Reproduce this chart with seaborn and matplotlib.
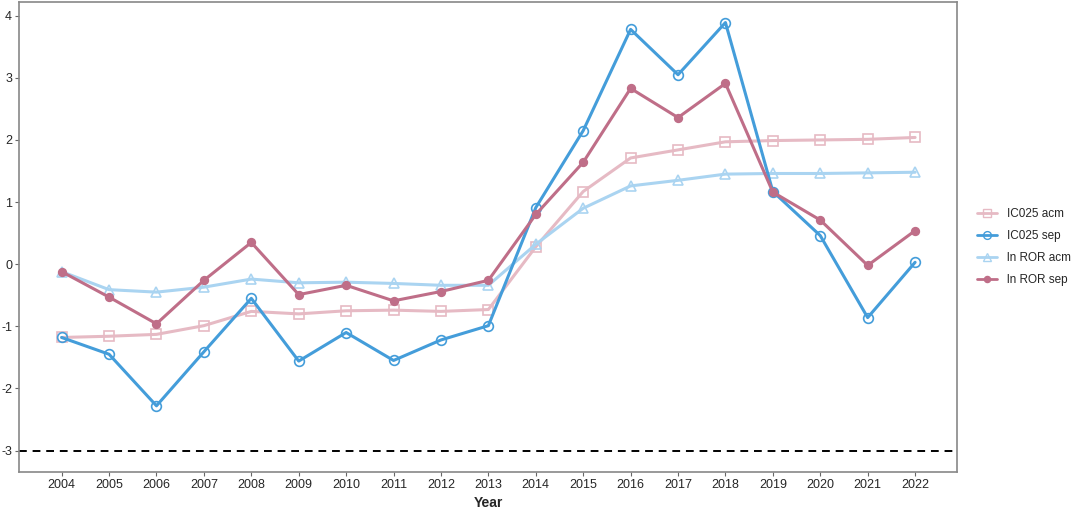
import numpy as np
import pandas as pd
import matplotlib
matplotlib.use("Agg")
import matplotlib.pyplot as plt
import seaborn as sns
from matplotlib.lines import Line2D

years = list(range(2004, 2023))

ic025_acm = [-1.18, -1.16, -1.13, -0.99, -0.76, -0.80, -0.75, -0.74, -0.76, -0.73,
             0.28, 1.17, 1.71, 1.84, 1.97, 1.99, 2.00, 2.01, 2.04]
ic025_sep = [-1.18, -1.45, -2.28, -1.41, -0.55, -1.56, -1.10, -1.55, -1.22, -0.99,
             0.91, 2.15, 3.78, 3.05, 3.89, 1.17, 0.46, -0.86, 0.03]
lnror_acm = [-0.12, -0.41, -0.45, -0.37, -0.24, -0.30, -0.29, -0.31, -0.34, -0.34,
             0.32, 0.90, 1.26, 1.35, 1.45, 1.46, 1.46, 1.47, 1.48]
lnror_sep = [-0.12, -0.53, -0.96, -0.26, 0.35, -0.49, -0.34, -0.59, -0.44, -0.26,
             0.80, 1.64, 2.83, 2.36, 2.91, 1.16, 0.71, -0.02, 0.54]

series_names = ["IC025 acm", "IC025 sep", "ln ROR acm", "ln ROR sep"]
series_colors = ["#E6BAC4", "#449DDA", "#AAD4F1", "#BF6E88"]

sns.set_style("white")
plt.rcParams["font.family"] = ["Liberation Sans", "DejaVu Sans"]
plt.rcParams["axes.unicode_minus"] = False

fig, ax = plt.subplots(figsize=(10.72, 5.11), dpi=100)
fig.subplots_adjust(left=0.0177, right=0.893, top=0.996, bottom=0.077)

styles = {
    "IC025 acm": dict(marker="s", markersize=7, markerfacecolor="none", linewidth=2.2),
    "ln ROR acm": dict(marker="^", markersize=7.5, markerfacecolor="none", linewidth=2.2),
    "IC025 sep": dict(marker="o", markersize=7, markerfacecolor="none", linewidth=2.2),
    "ln ROR sep": dict(marker="o", markersize=5.5, linewidth=2.2),
}
data = dict(zip(series_names, [ic025_acm, ic025_sep, lnror_acm, lnror_sep]))
colors = dict(zip(series_names, series_colors))

for name in ["IC025 acm", "ln ROR acm", "IC025 sep", "ln ROR sep"]:
    c = colors[name]
    st = styles[name]
    sns.lineplot(x=years, y=data[name], ax=ax, color=c,
                 markeredgecolor=c, markeredgewidth=1.2, **st)

ax.axhline(-3, color="black", linestyle=(0, (4, 3)), linewidth=1.4)

ax.set_xlim(2003.1, 2022.89)
ax.set_ylim(-3.34, 4.22)
ax.set_xticks(years)
ax.set_yticks(range(-3, 5))
ax.set_xlabel("Year", fontsize=10, fontweight="bold", labelpad=4)
ax.set_ylabel("")
ax.tick_params(axis="both", labelsize=9, length=3, width=0.8, color="#666666",
               pad=2, direction="out", bottom=True, left=True)
for sp in ax.spines.values():
    sp.set_color("#888888")
    sp.set_linewidth(1.2)

handles = []
for name in series_names:
    c = colors[name]
    st = styles[name]
    handles.append(Line2D([0], [0], color=c, markeredgecolor=c,
                          markeredgewidth=1.0, marker=st["marker"],
                          markersize=st["markersize"] * 0.8,
                          markerfacecolor=st.get("markerfacecolor", c),
                          linewidth=2.0))
ax.legend(handles, series_names, loc="center left", bbox_to_anchor=(1.01, 0.478),
          frameon=False, fontsize=8.5, handlelength=1.7, handletextpad=0.8,
          labelspacing=0.85)

fig.savefig("out.png", dpi=100)
